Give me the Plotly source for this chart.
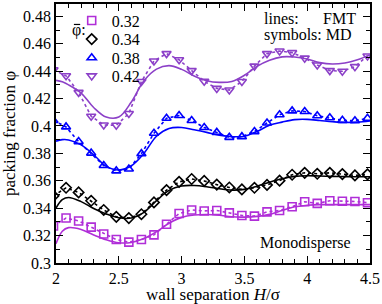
import plotly.graph_objects as go

# ---------------- data ----------------
H_md = [1.98, 2.08, 2.18, 2.28, 2.38, 2.48, 2.58, 2.68, 2.78, 2.88, 2.98, 3.08, 3.18,
        3.28, 3.38, 3.48, 3.58, 3.68, 3.78, 3.88, 3.98, 4.08, 4.18, 4.28, 4.38, 4.48]
md_032 = [0.327, 0.3328, 0.3307, 0.3262, 0.3212, 0.3171, 0.3152, 0.3171, 0.3205, 0.3283,
          0.3361, 0.3387, 0.3380, 0.3383, 0.3366, 0.3347, 0.3342, 0.3373, 0.3383, 0.3411,
          0.3447, 0.3435, 0.3454, 0.3451, 0.3449, 0.3440]
md_034 = [0.349, 0.3549, 0.3515, 0.3454, 0.3387, 0.3337, 0.3328, 0.3356, 0.3442, 0.3532,
          0.3592, 0.3613, 0.3599, 0.3572, 0.3551, 0.3537, 0.3549, 0.3570, 0.3601, 0.3644,
          0.3658, 0.3651, 0.3658, 0.3649, 0.3639, 0.3647]
md_038 = [0.404, 0.3993, 0.3886, 0.3802, 0.3711, 0.3672, 0.3686, 0.3798, 0.3947, 0.4056,
          0.4076, 0.4040, 0.3989, 0.3953, 0.3917, 0.3922, 0.3959, 0.4022, 0.4082, 0.4110,
          0.4106, 0.4074, 0.4060, 0.4041, 0.4038, 0.4056]
md_042 = [0.441, 0.4366, 0.4245, 0.4071, 0.4007, 0.4005, 0.4091, 0.4324, 0.4474, 0.4528,
          0.4483, 0.4404, 0.4326, 0.4274, 0.4262, 0.4324, 0.4437, 0.4528, 0.4547, 0.4535,
          0.4495, 0.4445, 0.4404, 0.4399, 0.4433, 0.4511]

H_fmt = [2.0, 2.05, 2.1, 2.2, 2.3, 2.4, 2.5, 2.6, 2.7, 2.8, 2.9, 3.0, 3.1, 3.2, 3.3,
         3.4, 3.5, 3.6, 3.7, 3.8, 3.9, 4.0, 4.1, 4.2, 4.3, 4.4, 4.5]
fmt_032 = [0.3140, 0.3232, 0.3258, 0.3245, 0.3205, 0.3170, 0.3148, 0.3150, 0.3178, 0.3228,
           0.3290, 0.3333, 0.3350, 0.3354, 0.3348, 0.3337, 0.3335, 0.3340, 0.3355, 0.3383,
           0.3410, 0.3421, 0.3426, 0.3426, 0.3426, 0.3426, 0.3426]
fmt_034 = [0.3401, 0.3462, 0.3478, 0.3448, 0.3398, 0.3358, 0.3330, 0.3328, 0.3370, 0.3455,
           0.3530, 0.3562, 0.3566, 0.3557, 0.3542, 0.3532, 0.3537, 0.3560, 0.3590, 0.3615,
           0.3632, 0.3637, 0.3635, 0.3632, 0.3630, 0.3629, 0.3629]
fmt_038 = [0.3889, 0.3900, 0.3898, 0.3862, 0.3790, 0.3705, 0.3679, 0.3710, 0.3800, 0.3925,
           0.3982, 0.3989, 0.3972, 0.3953, 0.3933, 0.3922, 0.3925, 0.3960, 0.4005, 0.4028,
           0.4046, 0.4048, 0.4040, 0.4031, 0.4025, 0.4028, 0.4036]
fmt_042 = [0.4333, 0.4322, 0.4300, 0.4240, 0.4135, 0.4065, 0.4065, 0.4175, 0.4330, 0.4415,
           0.4440, 0.4413, 0.4365, 0.4330, 0.4318, 0.4325, 0.4370, 0.4435, 0.4480, 0.4504,
           0.4503, 0.4488, 0.4462, 0.4452, 0.4460, 0.4483, 0.4518]

labels = ["0.32", "0.34", "0.38", "0.42"]
colors = ["#b02ed8", "#000000", "#0000ff", "#8c40c8"]
symbols = ["square-open", "diamond-open", "triangle-up-open", "triangle-down-open"]
md_series = [md_032, md_034, md_038, md_042]
fmt_series = [fmt_032, fmt_034, fmt_038, fmt_042]

x_ticks = [2, 2.5, 3, 3.5, 4, 4.5]
x_ticktext = ["2", "2.5", "3", "3.5", "4", "4.5"]
y_ticks = [0.30, 0.32, 0.34, 0.36, 0.38, 0.40, 0.42, 0.44, 0.46, 0.48]
y_ticktext = ["0.3", "0.32", "0.34", "0.36", "0.38", "0.4", "0.42", "0.44", "0.46", "0.48"]

FONT = "Liberation Serif"
legend_ids = ["legend", "legend2", "legend3", "legend4"]
legend_rows_y = [0.936, 0.864, 0.792, 0.722]

fig = go.Figure()
for lab, col, sym, md, fmt, lid in zip(labels, colors, symbols, md_series, fmt_series, legend_ids):
    fig.add_trace(go.Scatter(x=H_fmt, y=fmt, mode="lines", line=dict(color=col, width=1.6, shape="spline"),
                             showlegend=False, hoverinfo="skip"))
    fig.add_trace(go.Scatter(x=H_md, y=md, mode="lines+markers",
                             line=dict(color=col, width=1.6, dash="dot"),
                             marker=dict(symbol=sym, size=8, color=col, line=dict(color=col, width=1.6)),
                             showlegend=False))
    fig.add_trace(go.Scatter(x=[None], y=[None], mode="markers", name=lab, legend=lid,
                             marker=dict(symbol=sym, size=8, color=col, line=dict(color=col, width=1.6))))

axis_common = dict(showline=True, linecolor="black", linewidth=1.6, mirror="ticks",
                   ticks="inside", ticklen=7, tickwidth=1.4, tickcolor="black",
                   showgrid=False, zeroline=False,
                   tickfont=dict(family=FONT, size=16, color="black"))

legend_layout = {}
for lid, ly in zip(legend_ids, legend_rows_y):
    legend_layout[lid] = dict(x=0.05, y=ly, xanchor="left", yanchor="middle", bgcolor="rgba(0,0,0,0)",
                              font=dict(family=FONT, size=16), itemwidth=30, borderwidth=0)

fig.update_layout(
    width=382, height=304,
    margin=dict(l=56, r=11, t=2, b=37),
    plot_bgcolor="white", paper_bgcolor="white",
    font=dict(family=FONT, size=16, color="black"),
    xaxis=dict(range=[2, 4.5], tickvals=x_ticks, ticktext=x_ticktext,
               minor=dict(dtick=0.1, tick0=2, ticks="inside", ticklen=4, tickwidth=1.2, tickcolor="black"),
               title=dict(text="wall separation <i>H</i>/σ", font=dict(family=FONT, size=17), standoff=3),
               **axis_common),
    yaxis=dict(range=[0.3, 0.489], tickvals=y_ticks, ticktext=y_ticktext,
               minor=dict(dtick=0.01, tick0=0.3, ticks="inside", ticklen=4, tickwidth=1.2, tickcolor="black"),
               title=dict(text="packing fraction φ", font=dict(family=FONT, size=17), standoff=4),
               **axis_common),
    showlegend=True,
    **legend_layout,
)

# phi-bar label: "φ:" with an overbar
fig.add_annotation(x=0.074, y=0.900, xref="paper", yref="paper", text="φ:", showarrow=False,
                   xanchor="center", yanchor="middle", font=dict(family=FONT, size=16))
fig.add_shape(type="line", xref="paper", yref="paper", x0=0.057, x1=0.077, y0=0.921, y1=0.921,
              line=dict(color="black", width=1.2))
fig.add_annotation(x=0.655, y=0.945, xref="paper", yref="paper", text="lines:", showarrow=False,
                   xanchor="left", yanchor="middle", font=dict(family=FONT, size=16))
fig.add_annotation(x=0.962, y=0.945, xref="paper", yref="paper", text="FMT", showarrow=False,
                   xanchor="right", yanchor="middle", font=dict(family=FONT, size=16))
fig.add_annotation(x=0.655, y=0.880, xref="paper", yref="paper", text="symbols: MD", showarrow=False,
                   xanchor="left", yanchor="middle", font=dict(family=FONT, size=16))
fig.add_annotation(x=0.795, y=0.076, xref="paper", yref="paper", text="Monodisperse", showarrow=False,
                   xanchor="center", yanchor="middle", font=dict(family=FONT, size=16))

fig.write_html("out.html", config={"displayModeBar": False},
               post_script="document.body.style.margin='0';document.body.style.padding='0';")
